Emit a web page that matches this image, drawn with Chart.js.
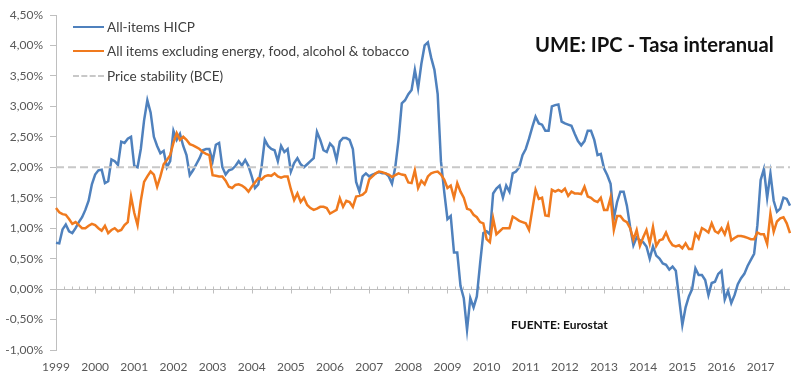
<!DOCTYPE html>
<html>
<head>
<meta charset="utf-8">
<script src="https://cdn.jsdelivr.net/npm/chart.js@4/dist/chart.umd.min.js"></script>
<style>
  html, body { margin: 0; padding: 0; background: #fff; }
  #wrap { position: relative; width: 800px; height: 381px; overflow: hidden; font-family: Lato, "Liberation Sans", sans-serif; }
  canvas { position: absolute; left: 0; top: 0; }
  .leg { position: absolute; left: 73px; height: 16px; color: #404040; font-size: 13.6px; white-space: nowrap; }
  .leg .sw { position: absolute; left: 0; top: 7px; width: 31px; height: 0; border-top: 2.5px solid; }
  .leg .tx { position: absolute; left: 34px; top: 0; line-height: 16px; }
  #title { position: absolute; left: 535px; top: 31px; font-size: 20.2px; font-weight: bold; color: #111; white-space: nowrap; line-height: 26px; }
  #src { position: absolute; left: 511px; top: 318px; font-size: 12px; font-weight: bold; color: #111; white-space: nowrap; line-height: 14px; }
</style>
</head>
<body>
<div id="wrap">
  <canvas id="c" width="800" height="381"></canvas>
  <div class="leg" id="leg0" style="top:19px"><div class="sw" style="border-color:#4F81BD"></div><div class="tx"></div></div>
  <div class="leg" id="leg1" style="top:43px"><div class="sw" style="border-color:#F07A1E"></div><div class="tx"></div></div>
  <div class="leg" id="leg2" style="top:68px"><div class="sw" style="border-top:2px dashed #C8C8C8"></div><div class="tx"></div></div>
  <div id="title">UME: IPC - Tasa interanual</div>
  <div id="src">FUENTE: Eurostat</div>
</div>
<script>
// ---- DATA ----
const years = [1999,2000,2001,2002,2003,2004,2005,2006,2007,2008,2009,2010,2011,2012,2013,2014,2015,2016,2017];
const lastMonth2017 = 10; // data runs Jan 1999 - Oct 2017

const seriesNames = [
  "All-items HICP",
  "All items excluding energy, food, alcohol & tobacco",
  "Price stability (BCE)"
];

// All-items HICP, annual rate (%), monthly
const hicp = [
  0.76,0.75,0.98,1.06,0.95,0.92,1.0,1.1,1.18,1.3,1.45,1.72,
  1.88,1.95,1.96,1.74,1.77,2.13,2.1,2.04,2.42,2.4,2.47,2.5,
  2.02,2.0,2.3,2.77,3.1,2.9,2.5,2.35,2.23,2.27,2.0,2.1,
  2.6,2.45,2.55,2.35,2.2,1.87,1.95,2.05,2.15,2.28,2.3,2.3,
  2.1,2.37,2.4,2.0,1.88,1.95,1.97,2.02,2.1,2.03,2.12,2.02,
  1.85,1.66,1.72,2.0,2.45,2.35,2.3,2.28,2.1,2.35,2.25,2.3,
  1.93,2.07,2.15,2.05,2.0,2.05,2.1,2.15,2.58,2.45,2.28,2.25,
  2.39,2.33,2.12,2.42,2.48,2.48,2.45,2.3,1.76,1.6,1.85,1.9,
  1.85,1.88,1.9,1.92,1.9,1.9,1.85,1.73,2.0,2.45,3.05,3.1,
  3.2,3.27,3.6,3.3,3.7,4.0,4.05,3.8,3.6,3.2,2.1,1.6,
  1.15,1.2,0.6,0.6,0.05,-0.15,-0.67,-0.15,-0.3,-0.12,0.42,0.92,
  0.95,0.9,1.57,1.65,1.7,1.5,1.7,1.6,1.9,1.93,2.0,2.2,
  2.3,2.47,2.66,2.83,2.72,2.7,2.6,2.6,3.0,3.02,3.03,2.75,
  2.72,2.7,2.68,2.55,2.43,2.36,2.43,2.6,2.6,2.45,2.2,2.22,
  1.98,1.87,1.73,1.16,1.43,1.6,1.6,1.37,1.02,0.72,0.85,0.8,
  0.77,0.7,0.5,0.7,0.55,0.5,0.42,0.4,0.32,0.37,0.3,-0.15,
  -0.59,-0.3,-0.12,0.0,0.34,0.23,0.23,0.15,-0.1,0.1,0.12,0.25,
  0.3,-0.17,-0.03,-0.23,-0.1,0.08,0.18,0.25,0.38,0.48,0.58,1.05,
  1.79,1.97,1.5,1.9,1.45,1.27,1.32,1.5,1.48,1.37
];

// All items excluding energy, food, alcohol & tobacco, annual rate (%), monthly
const core = [
  1.33,1.26,1.23,1.22,1.15,1.07,1.1,1.05,1.0,1.0,1.04,1.07,
  1.05,1.0,0.96,1.04,0.92,0.97,1.0,0.95,0.97,1.05,1.1,1.52,
  1.25,1.05,1.45,1.76,1.85,1.93,1.88,1.68,1.85,2.05,2.12,2.2,
  2.4,2.56,2.45,2.5,2.45,2.38,2.36,2.33,2.3,2.25,2.22,2.2,
  1.87,1.86,1.85,1.85,1.78,1.68,1.66,1.71,1.72,1.7,1.66,1.6,
  1.68,1.75,1.82,1.8,1.85,1.87,1.86,1.9,1.85,1.83,1.85,1.85,
  1.64,1.46,1.57,1.43,1.5,1.38,1.33,1.3,1.32,1.35,1.35,1.33,
  1.24,1.27,1.3,1.49,1.35,1.45,1.43,1.35,1.52,1.53,1.55,1.6,
  1.8,1.85,1.9,1.93,1.92,1.9,1.88,1.84,1.87,1.9,1.88,1.87,
  1.75,1.74,1.95,1.66,1.78,1.72,1.85,1.9,1.92,1.93,1.88,1.8,
  1.66,1.7,1.5,1.74,1.6,1.5,1.32,1.3,1.22,1.18,1.1,1.08,
  0.82,0.77,1.16,0.9,0.95,1.0,1.0,1.0,1.19,1.16,1.12,1.1,
  1.08,0.97,1.3,1.63,1.48,1.5,1.21,1.2,1.63,1.6,1.63,1.6,
  1.65,1.53,1.6,1.57,1.57,1.56,1.68,1.52,1.5,1.45,1.43,1.5,
  1.3,1.3,1.5,0.97,1.2,1.2,1.13,1.1,1.0,0.81,0.97,0.71,
  0.85,0.97,0.75,1.02,0.71,0.8,0.82,0.93,0.8,0.72,0.7,0.72,
  0.67,0.75,0.66,0.66,0.91,0.83,1.0,0.97,0.93,1.08,0.95,0.92,
  1.0,0.9,1.06,0.8,0.84,0.87,0.87,0.86,0.84,0.82,0.82,0.93,
  0.9,0.9,0.74,1.24,0.94,1.11,1.16,1.18,1.08,0.92
];

const priceStabilityTarget = 2.0;

const yMin = -1.0, yMax = 4.5, yStep = 0.5;

// ---- BUILD ----
const labels = [];
years.forEach((y, yi) => {
  const n = (yi === years.length - 1) ? lastMonth2017 : 12;
  for (let m = 1; m <= n; m++) labels.push(y + "-" + String(m).padStart(2, "0"));
});
const target = labels.map(() => priceStabilityTarget);

document.querySelector('#leg0 .tx').textContent = seriesNames[0];
document.querySelector('#leg1 .tx').textContent = seriesNames[1];
document.querySelector('#leg2 .tx').textContent = seriesNames[2];

const AXIS = '#BFBFBF';
const TICKTXT = '#595959';

const zeroAxis = {
  id: 'zeroAxis',
  beforeDatasetsDraw(chart) {
    const { ctx, scales: { x, y } } = chart;
    const y0 = Math.round(y.getPixelForValue(0)) + 0.5;
    ctx.save();
    ctx.strokeStyle = AXIS;
    ctx.lineWidth = 1;
    ctx.beginPath();
    ctx.moveTo(x.left, y0);
    ctx.lineTo(chart.chartArea.right, y0);
    for (let yi = 0; yi < years.length; yi++) {
      const base = yi * 12;
      if (yi > 0) {
        const px = Math.round(x.getPixelForValue(base)) + 0.5;
        ctx.moveTo(px, y0 - 3);
        ctx.lineTo(px, y0 + 4);
      }
      for (let k = 1; k < 5; k++) {
        const v = base + k * 12 / 5;
        if (v > labels.length - 1) break;
        const px = Math.round(x.getPixelForValue(v)) + 0.5;
        ctx.moveTo(px, y0 - 3);
        ctx.lineTo(px, y0);
      }
    }
    ctx.stroke();
    ctx.restore();
  }
};

new Chart(document.getElementById('c'), {
  type: 'line',
  data: {
    labels,
    datasets: [
      { label: seriesNames[0], data: hicp, borderColor: '#4F81BD', borderWidth: 2.5, pointRadius: 0, tension: 0, order: 3 },
      { label: seriesNames[1], data: core, borderColor: '#F07A1E', borderWidth: 2.5, pointRadius: 0, tension: 0, order: 2 },
      { label: seriesNames[2], data: target, borderColor: '#C8C8C8', borderWidth: 2, borderDash: [8, 4], pointRadius: 0, tension: 0, order: 1 }
    ]
  },
  options: {
    responsive: false,
    animation: false,
    devicePixelRatio: 1,
    layout: { padding: { left: 0, right: 6, top: 15, bottom: 0 } },
    plugins: { legend: { display: false }, tooltip: { enabled: false } },
    scales: {
      x: {
        type: 'category',
        offset: false,
        afterFit: (s) => { s.height = 31; },
        grid: { display: false, drawTicks: false },
        border: { display: false },
        ticks: {
          autoSkip: false, maxRotation: 0, minRotation: 0, padding: 10,
          color: TICKTXT, font: { family: 'Lato', size: 12 },
          callback: (v, i) => (i % 12 === 0) ? String(years[i / 12]) : ''
        }
      },
      y: {
        min: yMin, max: yMax,
        afterFit: (s) => { s.width = 56; },
        grid: { drawOnChartArea: false, drawTicks: true, tickLength: 6, color: AXIS },
        border: { display: true, color: AXIS, width: 1 },
        ticks: {
          stepSize: yStep, padding: 7, color: TICKTXT, font: { family: 'Lato', size: 12 },
          callback: (v) => v.toFixed(2).replace('.', ',') + '%'
        }
      }
    }
  },
  plugins: [zeroAxis]
});
</script>
</body>
</html>
